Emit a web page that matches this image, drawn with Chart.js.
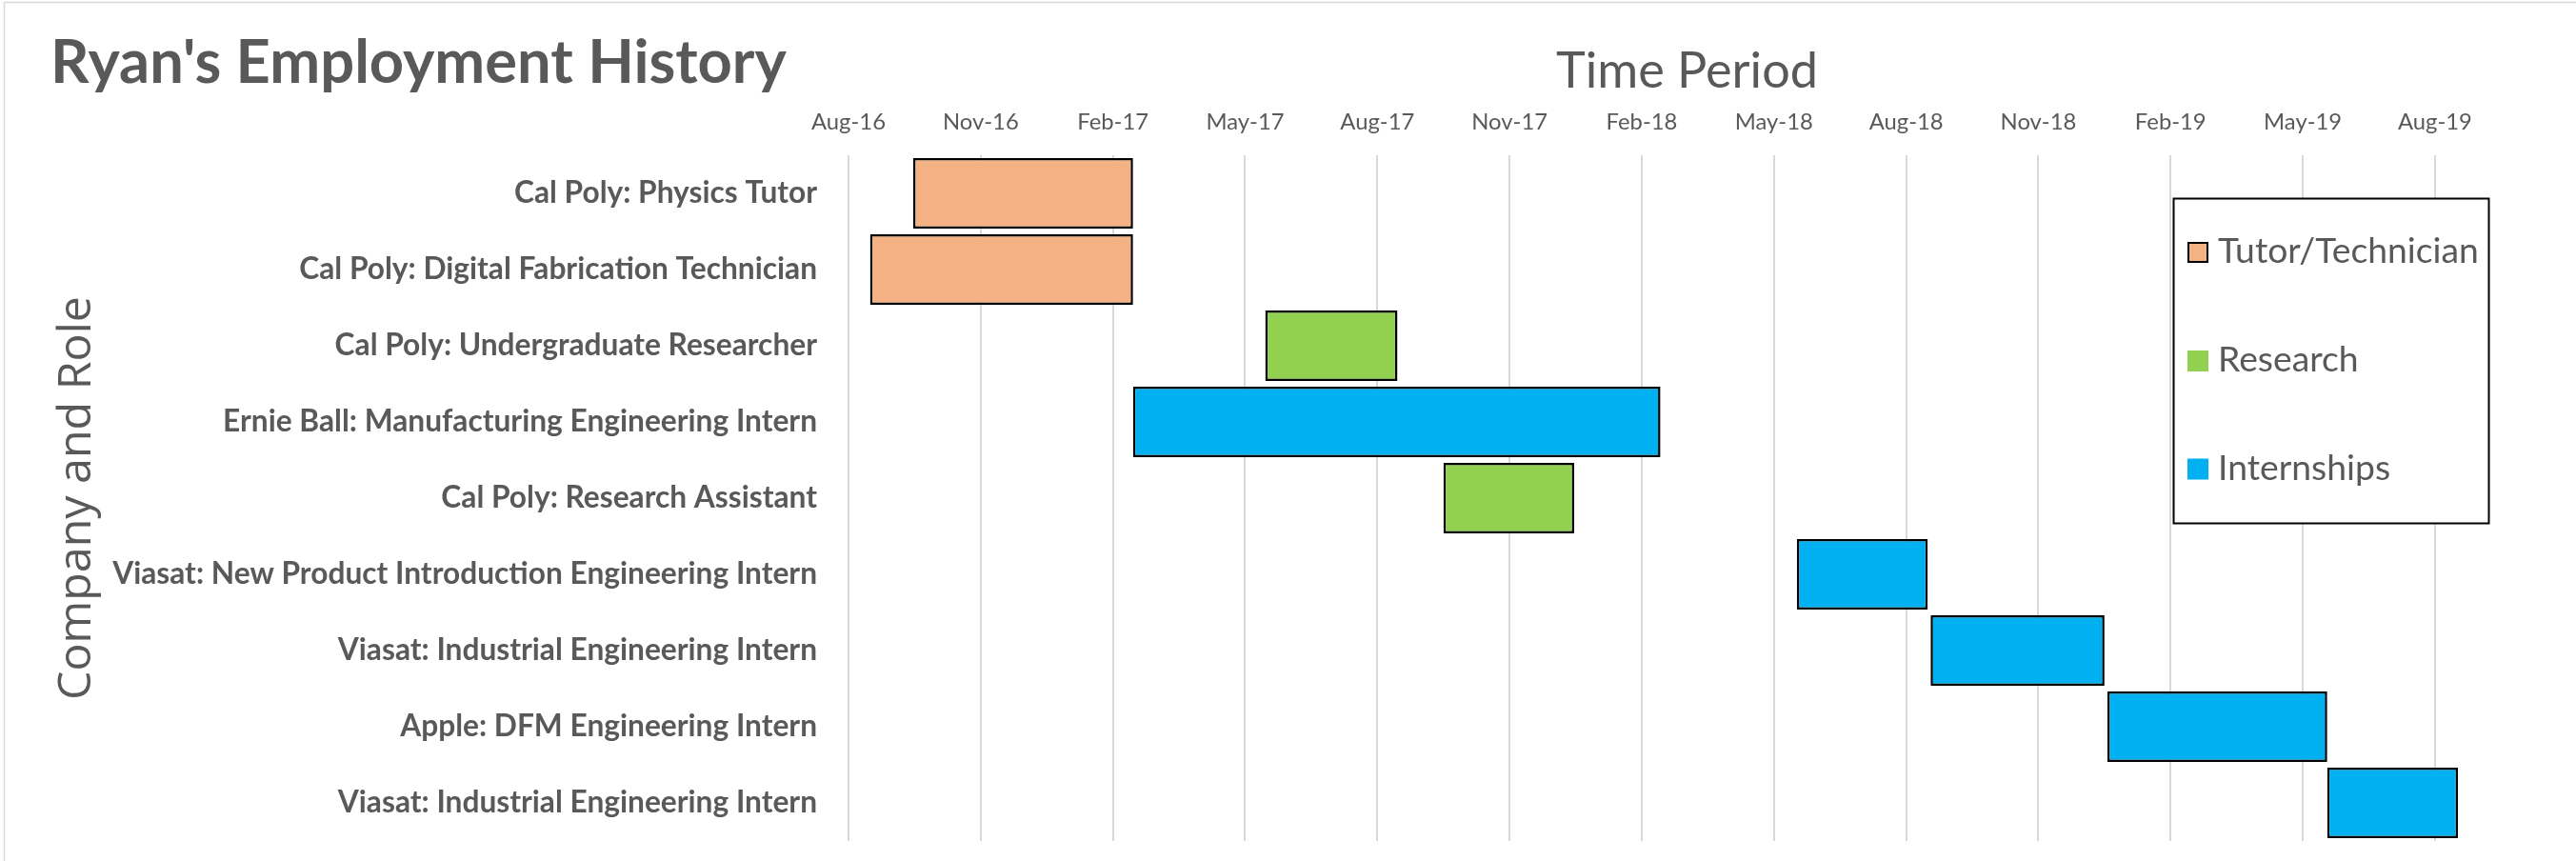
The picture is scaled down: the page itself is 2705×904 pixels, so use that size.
<!DOCTYPE html>
<html>
<head>
<meta charset="utf-8">
<script src="https://cdn.jsdelivr.net/npm/chart.js@4.4.1/dist/chart.umd.min.js"></script>
<style>
html,body{margin:0;padding:0;background:#fff;overflow:hidden}
#wrap{position:relative;width:2705px;height:904px}
canvas{display:block}
</style>
</head>
<body>
<div id="wrap"><canvas id="c" width="2705" height="904"></canvas></div>
<script>
// ---------------- data ----------------
const chartTitle = "Ryan's Employment History";
const xAxisTitle = 'Time Period';
const yAxisTitle = 'Company and Role';
const seriesNames = ['Tutor/Technician', 'Research', 'Internships'];
const seriesColors = ['#F4B183', '#92D050', '#00B0F0'];
const roles = [
  'Cal Poly: Physics Tutor',
  'Cal Poly: Digital Fabrication Technician',
  'Cal Poly: Undergraduate Researcher',
  'Ernie Ball: Manufacturing Engineering Intern',
  'Cal Poly: Research Assistant',
  'Viasat: New Product Introduction Engineering Intern',
  'Viasat: Industrial Engineering Intern',
  'Apple: DFM Engineering Intern',
  'Viasat: Industrial Engineering Intern'
];
const roleSeries = [0, 0, 1, 2, 1, 2, 2, 2, 2];
const startDates = ['2016-09-15','2016-08-16','2017-05-18','2017-02-15','2017-09-19','2018-05-23','2018-08-24','2018-12-25','2019-05-27'];
const endDates   = ['2017-02-15','2017-02-15','2017-08-18','2018-02-17','2017-12-19','2018-08-22','2018-12-23','2019-05-27','2019-08-26'];
const tickLabels = ['Aug-16','Nov-16','Feb-17','May-17','Aug-17','Nov-17','Feb-18','May-18','Aug-18','Nov-18','Feb-19','May-19','Aug-19'];
const axisStart = '2016-08-01';
const axisEnd = '2019-10-12';
const tickStepDays = 92;

// ---------------- helpers ----------------
const DAY = 86400000;
const dayOffset = d => (Date.parse(d) - Date.parse(axisStart)) / DAY;

const LAT = "Lato, 'Open Sans', sans-serif";
const OS = "'Open Sans', Lato, sans-serif";
const TEXT = '#595959';

const mctx = document.createElement('canvas').getContext('2d');
function measure(font, text) {
  mctx.font = font;
  mctx.textBaseline = 'alphabetic';
  const a = mctx.measureText(text);
  mctx.textBaseline = 'middle';
  const m = mctx.measureText(text);
  return { w: a.width, cap: a.actualBoundingBoxAscent, mid: m.actualBoundingBoxAscent };
}
function fitSize(family, weight, text, target) {
  return 100 * target / measure(`${weight} 100px ${family}`, text).w;
}
function baseBelowMiddle(family, weight, size) {
  const r = measure(`${weight} ${size}px ${family}`, 'H');
  return r.cap - r.mid;
}

// ---------------- sizes / layout (style only) ----------------
const titleSize  = fitSize(LAT, 'bold', chartTitle, 773);
const yTickSize  = fitSize(LAT, 'bold', roles[5], 740);
const xTickSize  = fitSize(LAT, 'normal', tickLabels[0], 78);
const xTitleSize = fitSize(LAT, 'normal', xAxisTitle, 275);
const yTitleSize = fitSize(OS, 'normal', yAxisTitle, 424);
const legSize    = fitSize(LAT, 'normal', seriesNames[0], 274);

const AREA_LEFT = 891, AREA_TOP = 163, AREA_RIGHT = 2652, AREA_BOTTOM = 883;

const xTickLH = xTickSize * 1.2;
const xTickPad = AREA_TOP - xTickLH / 2 - (136 - baseBelowMiddle(LAT, 'normal', xTickSize));
const xTitleLH = xTitleSize * 1.2;
const xTitlePad = (91.5 - baseBelowMiddle(LAT, 'normal', xTitleSize)) - xTitleLH / 2;
const yTitleLH = yTitleSize * 1.2;
const yTitlePad = (95 - baseBelowMiddle(OS, 'normal', yTitleSize)) - yTitleLH / 2;

// ---------------- datasets ----------------
const datasets = seriesNames.map((name, s) => ({
  label: name,
  data: roles.map((r, i) => roleSeries[i] === s ? [dayOffset(startDates[i]), dayOffset(endDates[i])] : null),
  backgroundColor: seriesColors[s],
  borderColor: '#000000',
  borderWidth: 2.5,
  borderSkipped: false,
  barPercentage: 0.925,
  categoryPercentage: 1
}));

// ---------------- plugins ----------------
const bgPlugin = {
  id: 'bg',
  beforeDraw(chart) {
    const c = chart.ctx;
    c.save();
    c.fillStyle = '#ffffff';
    c.fillRect(0, 0, chart.width, chart.height);
    c.strokeStyle = '#D9D9D9';
    c.lineWidth = 1.5;
    c.beginPath();
    c.moveTo(4, 2.5); c.lineTo(chart.width, 2.5);
    c.moveTo(4.5, 2.5); c.lineTo(4.5, chart.height);
    c.stroke();
    c.restore();
  }
};
const titlePlugin = {
  id: 'mainTitle',
  afterDraw(chart) {
    const c = chart.ctx;
    c.save();
    c.font = `bold ${titleSize}px ${LAT}`;
    c.fillStyle = TEXT;
    c.textAlign = 'left';
    c.textBaseline = 'alphabetic';
    c.fillText(chartTitle, 53, 87);
    c.restore();
  }
};
const legendPlugin = {
  id: 'boxLegend',
  afterDraw(chart) {
    const c = chart.ctx;
    const bx = 2282.5, by = 208.5, bw = 331, bh = 341;
    c.save();
    c.fillStyle = '#ffffff';
    c.fillRect(bx, by, bw, bh);
    c.strokeStyle = '#000000';
    c.lineWidth = 2;
    c.strokeRect(bx, by, bw, bh);
    const baselines = [276, 390, 503.5];
    chart.data.datasets.forEach((ds, i) => {
      const bl = baselines[i];
      const sx = 2297, sy = bl - 22, ss = 22;
      c.fillStyle = ds.backgroundColor;
      c.fillRect(sx, sy, ss, ss);
      if (i === 0) {
        c.strokeStyle = '#000000';
        c.lineWidth = 2;
        c.strokeRect(sx + 1, sy + 1, ss - 2, ss - 2);
      }
      c.font = `normal ${legSize}px ${LAT}`;
      c.fillStyle = TEXT;
      c.textAlign = 'left';
      c.textBaseline = 'alphabetic';
      c.fillText(ds.label, 2329, bl);
    });
    c.restore();
  }
};

// ---------------- chart ----------------
new Chart(document.getElementById('c'), {
  type: 'bar',
  data: { labels: roles, datasets },
  options: {
    indexAxis: 'y',
    responsive: false,
    devicePixelRatio: 1,
    animation: false,
    layout: { padding: { left: 0, top: 0, right: 2705 - AREA_RIGHT, bottom: 904 - AREA_BOTTOM } },
    plugins: {
      legend: { display: false },
      title: { display: false },
      tooltip: { enabled: false }
    },
    scales: {
      x: {
        type: 'linear',
        position: 'top',
        min: 0,
        max: dayOffset(axisEnd),
        stacked: false,
        afterFit: s => { s.height = AREA_TOP; s.paddingLeft = 0; s.paddingRight = 0; s.paddingTop = 0; s.paddingBottom = 0; },
        grid: { display: true, color: '#D9D9D9', lineWidth: 2, drawTicks: false },
        border: { display: false },
        ticks: {
          stepSize: tickStepDays,
          includeBounds: false,
          maxTicksLimit: 30,
          autoSkip: false,
          maxRotation: 0,
          padding: xTickPad,
          color: TEXT,
          font: { family: LAT, size: xTickSize, weight: 'normal', lineHeight: 1.2 },
          callback: v => {
            const k = Math.round(v / tickStepDays);
            return Math.abs(v - k * tickStepDays) < 0.01 ? (tickLabels[k] ?? '') : '';
          }
        },
        title: {
          display: true,
          text: xAxisTitle,
          color: TEXT,
          font: { family: LAT, size: xTitleSize, weight: 'normal', lineHeight: 1.2 },
          padding: { top: xTitlePad, bottom: 0 }
        }
      },
      y: {
        type: 'category',
        stacked: true,
        offset: true,
        afterFit: s => { s.width = AREA_LEFT; s.paddingTop = 0; s.paddingBottom = 0; s.paddingLeft = 0; s.paddingRight = 0; },
        grid: { display: false, drawTicks: false },
        border: { display: false },
        ticks: {
          autoSkip: false,
          padding: AREA_LEFT - 858,
          color: TEXT,
          font: { family: LAT, size: yTickSize, weight: 'bold', lineHeight: 1.2 }
        },
        title: {
          display: true,
          text: yAxisTitle,
          color: TEXT,
          font: { family: OS, size: yTitleSize, weight: 'normal', lineHeight: 1.2 },
          padding: { top: yTitlePad, bottom: 0 }
        }
      }
    }
  },
  plugins: [bgPlugin, titlePlugin, legendPlugin]
});
</script>
</body>
</html>
